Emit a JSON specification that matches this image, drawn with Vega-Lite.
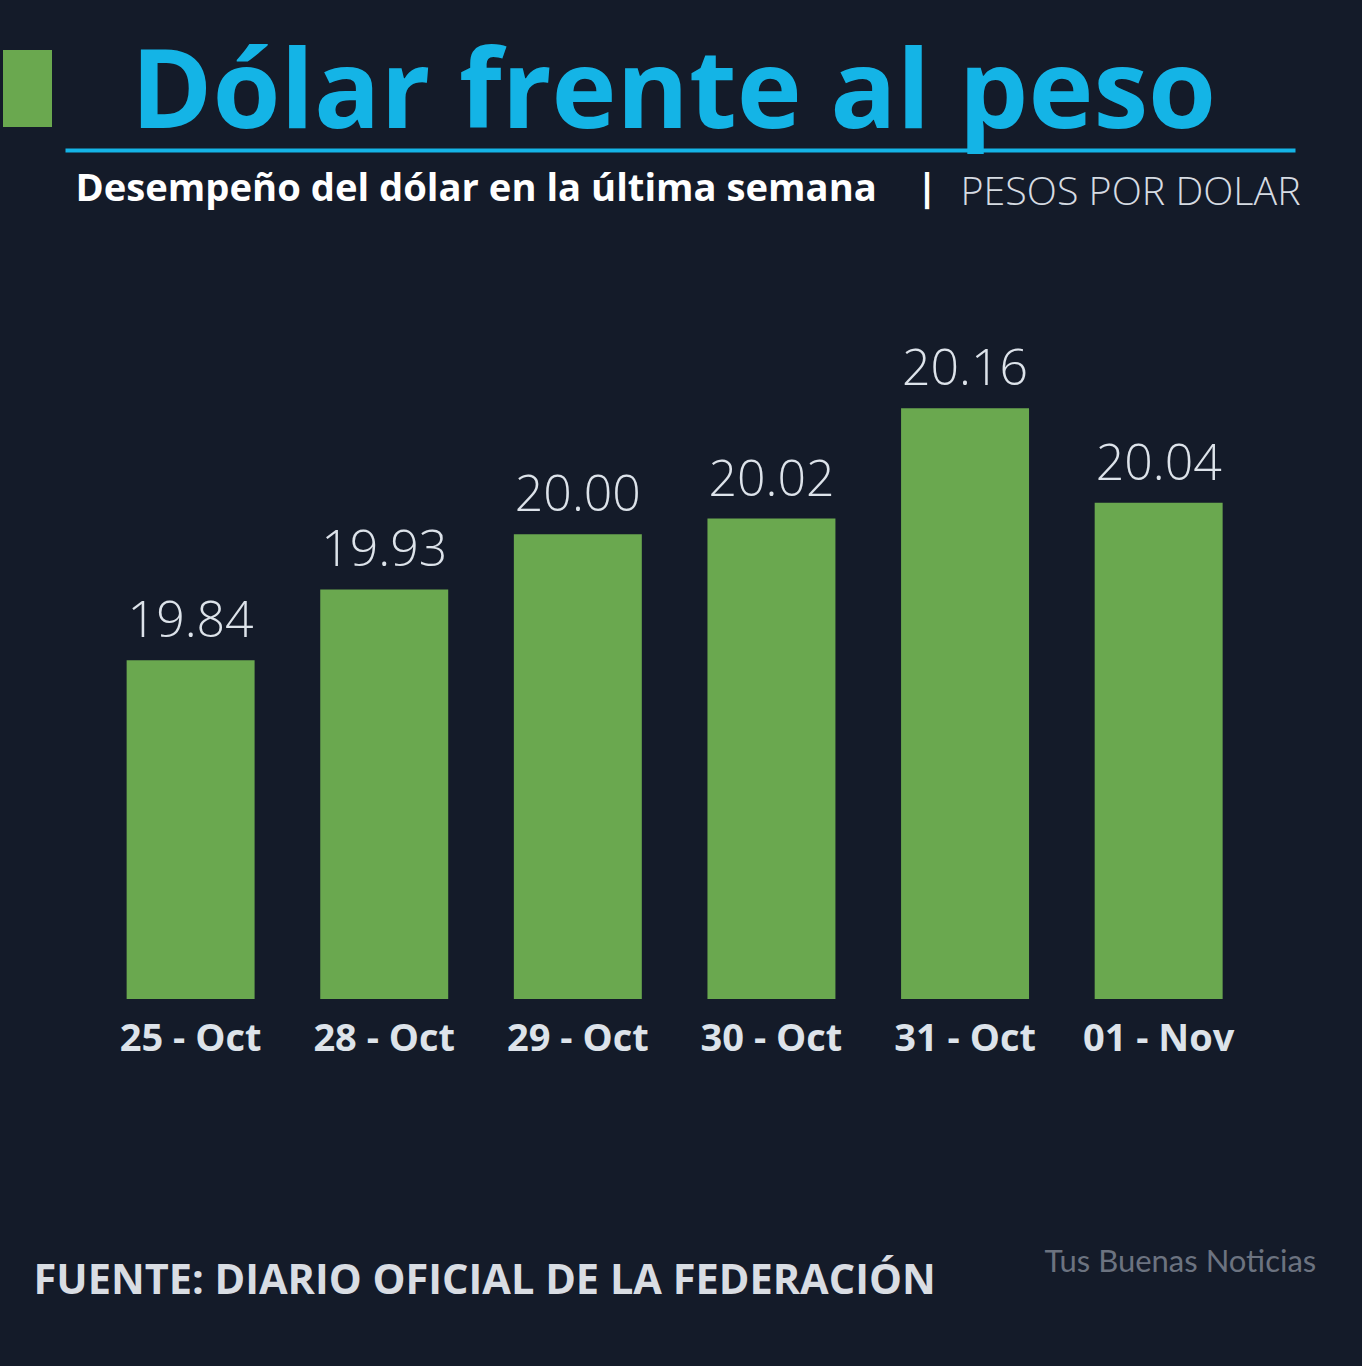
{
  "$schema": "https://vega.github.io/schema/vega-lite/v6.json",
  "autosize": {"type": "none"},
  "width": 1230,
  "height": 849,
  "padding": {"left": 65, "top": 150, "right": 67, "bottom": 367},
  "background": "#141b29",
  "title": {
    "text": "Dólar frente al peso",
    "anchor": "start",
    "frame": "group",
    "dx": 66,
    "dy": 196,
    "offset": 22,
    "baseline": "alphabetic",
    "font": "Open Sans",
    "fontSize": 110,
    "fontWeight": "bold",
    "color": "#14b4e6"
  },
  "data": {
    "values": [
      {"fecha": "25 - Oct", "valor": 19.84},
      {"fecha": "28 - Oct", "valor": 19.93},
      {"fecha": "29 - Oct", "valor": 20.00},
      {"fecha": "30 - Oct", "valor": 20.02},
      {"fecha": "31 - Oct", "valor": 20.16},
      {"fecha": "01 - Nov", "valor": 20.04}
    ]
  },
  "encoding": {
    "x": {
      "field": "fecha",
      "type": "nominal",
      "sort": null,
      "scale": {"paddingInner": 0.339, "paddingOuter": 0.346, "align": 0.46}
    },
    "y": {
      "field": "valor",
      "type": "quantitative",
      "scale": {"domain": [19.41, 20.488], "zero": false, "nice": false}
    }
  },
  "layer": [
    {
      "mark": {"type": "bar", "clip": false},
      "encoding": {
        "x": {
          "field": "fecha",
          "type": "nominal",
          "sort": null,
          "axis": {
            "orient": "bottom",
            "domain": false,
            "ticks": false,
            "labelAngle": 0,
            "labelFont": "Open Sans",
            "labelFontSize": 38,
            "labelFontWeight": "bold",
            "labelColor": "#dde3ea",
            "labelPadding": 21,
            "title": "FUENTE: DIARIO OFICIAL DE LA FEDERACIÓN",
            "titleFont": "Open Sans",
            "titleFontSize": 41.5,
            "titleFontWeight": "bold",
            "titleColor": "#d9dde3",
            "titleAlign": "left",
            "titleBaseline": "alphabetic",
            "titleX": -32,
            "titleY": 294
          }
        },
        "y": {
          "field": "valor",
          "type": "quantitative",
          "axis": {
            "orient": "left",
            "domain": false,
            "ticks": false,
            "labels": false,
            "grid": false,
            "title": "PESOS POR DOLAR",
            "titleAngle": 0,
            "titleFont": "Open Sans",
            "titleFontSize": 39.4,
            "titleFontWeight": 300,
            "titleColor": "#d6dbe2",
            "titleAlign": "left",
            "titleBaseline": "alphabetic",
            "titleX": 895,
            "titleY": 54
          }
        },
        "y2": {"datum": 19.41},
        "color": {
          "datum": "marca",
          "type": "nominal",
          "scale": {"range": ["#6aa84f"]},
          "legend": {
            "orient": "none",
            "legendX": -62,
            "legendY": -86,
            "title": null,
            "symbolType": "M-1,-1.571H1V1.571H-1Z",
            "symbolSize": 2401,
            "symbolStrokeWidth": 0,
            "symbolFillColor": "#6aa84f",
            "symbolOpacity": 1,
            "labelExpr": "''",
            "labelFontSize": 1,
            "padding": 0
          }
        }
      }
    },
    {
      "mark": {
        "type": "text",
        "baseline": "alphabetic",
        "dy": -23,
        "font": "Open Sans",
        "fontSize": 50,
        "fontWeight": 300,
        "color": "#dde3ea"
      },
      "encoding": {
        "x": {
          "field": "fecha",
          "type": "nominal",
          "sort": null,
          "axis": {
            "orient": "top",
            "domain": true,
            "domainColor": "#14b4e6",
            "domainWidth": 4,
            "ticks": false,
            "labels": false,
            "title": "Desempeño del dólar en la última semana\u00a0\u00a0\u00a0\u00a0|",
            "titleFont": "Open Sans",
            "titleFontSize": 38.2,
            "titleFontWeight": "bold",
            "titleColor": "#ffffff",
            "titleAlign": "left",
            "titleBaseline": "alphabetic",
            "titleX": 10,
            "titleY": 50
          }
        },
        "y": {
          "field": "valor",
          "type": "quantitative",
          "axis": {
            "orient": "right",
            "domain": false,
            "ticks": false,
            "labels": false,
            "grid": false,
            "title": "Tus Buenas Noticias",
            "titleAngle": 0,
            "titleFont": "Lato",
            "titleFontSize": 31,
            "titleFontWeight": "normal",
            "titleColor": "#6c7380",
            "titleAlign": "left",
            "titleBaseline": "alphabetic",
            "titleX": -251,
            "titleY": 1121
          }
        },
        "text": {"field": "valor", "type": "quantitative", "format": ".2f"}
      }
    }
  ],
  "resolve": {"axis": {"x": "independent", "y": "independent"}},
  "config": {
    "view": {"stroke": null},
    "axis": {"grid": false}
  }
}
